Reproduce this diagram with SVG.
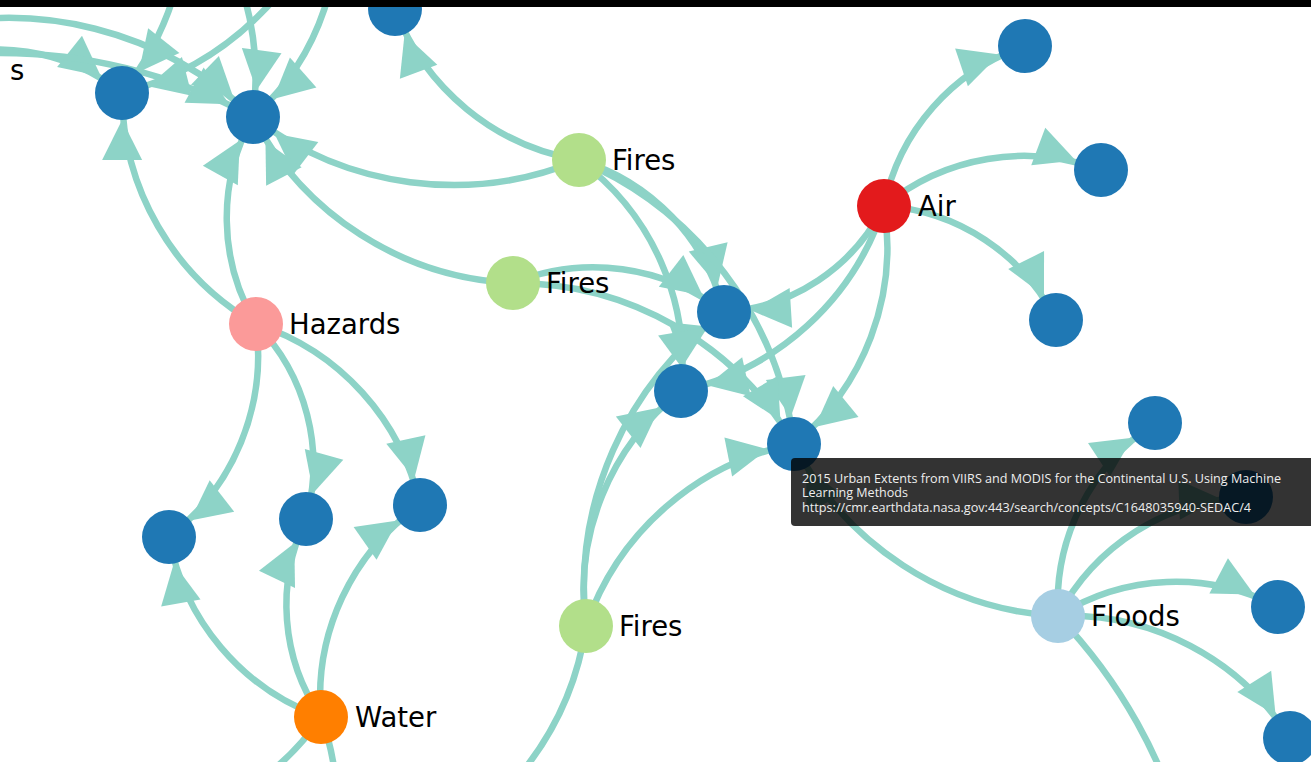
<svg xmlns="http://www.w3.org/2000/svg" width="1311" height="762" viewBox="0 0 1311 762">
<defs>
<marker id="arrow" markerUnits="userSpaceOnUse" markerWidth="40" markerHeight="40" refX="67" refY="20" orient="auto" overflow="visible">
<path d="M0,0 L40,20 L0,40 Z" fill="#8dd3c7"/>
</marker>
<style>
.link{fill:none;stroke:#8dd3c7;stroke-width:6.5}
.arr{marker-end:url(#arrow)}
.ds{fill:#1f78b4}
.label{font-family:"DejaVu Sans",Verdana,sans-serif;font-size:27.5px;fill:#000}
.tip text{font-family:"Open Sans","Noto Sans","DejaVu Sans",sans-serif;font-size:13px;fill:#eeeeee}
</style>
</defs>
<rect width="1311" height="762" fill="#fff"/>
<g id="links">
<path class="link arr" d="M-75.6,63.4 A200,200 0 0,1 122,93"/>
<path class="link arr" d="M-86,31.2 A350,350 0 0,1 253,117"/>
<path class="link arr" d="M-276.5,131 A530,530 0 0,1 253,117"/>
<path class="link arr" d="M167,-203 A300,300 0 0,1 122,93"/>
<path class="link arr" d="M336.5,-116.4 A300,300 0 0,1 122,93"/>
<path class="link arr" d="M137.9,-160.1 A300,300 0 0,1 253,117"/>
<path class="link arr" d="M332.2,-120 A250,250 0 0,1 253,117"/>
<path class="link arr" d="M256,324 A267.1,267.1 0 0,1 122,93"/>
<path class="link arr" d="M256,324 A207,207 0 0,1 253,117"/>
<path class="link arr" d="M256,324 A230.1,230.1 0 0,1 169,537"/>
<path class="link arr" d="M256,324 A201.3,201.3 0 0,1 306,519"/>
<path class="link arr" d="M256,324 A244.2,244.2 0 0,1 420,505"/>
<path class="link arr" d="M321,717 A235.6,235.6 0 0,1 169,537"/>
<path class="link arr" d="M321,717 A198.6,198.6 0 0,1 306,519"/>
<path class="link arr" d="M321,717 A234,234 0 0,1 420,505"/>
<path class="link" d="M321,717 A250,250 0 0,1 96,826"/>
<path class="link" d="M321,717 A250,250 0 0,1 278.9,963.3"/>
<path class="link arr" d="M579,160 A238,238 0 0,1 395,9"/>
<path class="link arr" d="M579,160 A328.8,328.8 0 0,1 253,117"/>
<path class="link arr" d="M579,160 A210.1,210.1 0 0,1 724,312"/>
<path class="link arr" d="M579,160 A252.5,252.5 0 0,1 681,391"/>
<path class="link arr" d="M579,160 A356.2,356.2 0 0,1 794,444"/>
<path class="link arr" d="M513,283 A308.5,308.5 0 0,1 253,117"/>
<path class="link arr" d="M513,283 A213,213 0 0,1 724,312"/>
<path class="link arr" d="M513,283 A323.9,323.9 0 0,1 794,444"/>
<path class="link arr" d="M586,626 A253.5,253.5 0 0,1 681,391"/>
<path class="link arr" d="M586,626 A343,343 0 0,1 724,312"/>
<path class="link arr" d="M586,626 A276.4,276.4 0 0,1 794,444"/>
<path class="link" d="M586,626 A300,300 0 0,1 400.4,861.7"/>
<path class="link arr" d="M884,206 A213.3,213.3 0 0,1 1025,46"/>
<path class="link arr" d="M884,206 A220,220 0 0,1 1101,170"/>
<path class="link arr" d="M884,206 A206.3,206.3 0 0,1 1056,320"/>
<path class="link arr" d="M884,206 A191.9,191.9 0 0,1 724,312"/>
<path class="link arr" d="M884,206 A274.7,274.7 0 0,1 681,391"/>
<path class="link arr" d="M884,206 A254.4,254.4 0 0,1 794,444"/>
<path class="link arr" d="M1058,616 A216,216 0 0,1 1155,423"/>
<path class="link arr" d="M1058,616 A222.5,222.5 0 0,1 1246,497"/>
<path class="link arr" d="M1058,616 A220.2,220.2 0 0,1 1278,607"/>
<path class="link arr" d="M1058,616 A262.1,262.1 0 0,1 1290,738"/>
<path class="link arr" d="M1058,616 A315.1,315.1 0 0,1 794,444"/>
<path class="link" d="M1058,616 A520,520 0 0,1 1182.7,1120.7"/>
</g>
<g id="nodes">
<g id="d1"><circle class="ds" cx="122" cy="93" r="27"/></g>
<g id="d2"><circle class="ds" cx="253" cy="117" r="27"/></g>
<g id="d3"><circle class="ds" cx="395" cy="9" r="27"/></g>
<g id="a1"><circle class="ds" cx="1025" cy="46" r="27"/></g>
<g id="a2"><circle class="ds" cx="1101" cy="170" r="27"/></g>
<g id="a3"><circle class="ds" cx="1056" cy="320" r="27"/></g>
<g id="m1"><circle class="ds" cx="724" cy="312" r="27"/></g>
<g id="m2"><circle class="ds" cx="681" cy="391" r="27"/></g>
<g id="m3"><circle class="ds" cx="794" cy="444" r="27"/></g>
<g id="f1"><circle class="ds" cx="1155" cy="423" r="27"/></g>
<g id="f2"><circle class="ds" cx="1246" cy="497" r="27"/></g>
<g id="f3"><circle class="ds" cx="1278" cy="607" r="27"/></g>
<g id="f4"><circle class="ds" cx="1290" cy="738" r="27"/></g>
<g id="h1"><circle class="ds" cx="169" cy="537" r="27"/></g>
<g id="h2"><circle class="ds" cx="306" cy="519" r="27"/></g>
<g id="h3"><circle class="ds" cx="420" cy="505" r="27"/></g>
<g id="fires-a"><circle cx="579" cy="160" r="27" fill="#b2df8a"/><text class="label" x="612" y="169.5">Fires</text></g>
<g id="fires-b"><circle cx="513" cy="283" r="27" fill="#b2df8a"/><text class="label" x="546" y="292.5">Fires</text></g>
<g id="fires-c"><circle cx="586" cy="626" r="27" fill="#b2df8a"/><text class="label" x="619" y="635.5">Fires</text></g>
<g id="hazards"><circle cx="256" cy="324" r="27" fill="#fb9a99"/><text class="label" x="289" y="333.5">Hazards</text></g>
<g id="water"><circle cx="321" cy="717" r="27" fill="#ff7f00"/><text class="label" x="355" y="726.5">Water</text></g>
<g id="air"><circle cx="884" cy="206" r="27" fill="#e31a1c"/><text class="label" x="918" y="215.5">Air</text></g>
<g id="floods"><circle cx="1058" cy="616" r="27" fill="#a6cee3"/><text class="label" x="1091" y="625.5">Floods</text></g>
<g id="offscreen-label"><text class="label" x="10" y="80">s</text></g>
</g>
<g id="tooltip" class="tip">
<rect x="791" y="458" width="530" height="68" rx="4" fill="#000" fill-opacity="0.8"/>
<text x="802" y="482.5" textLength="479" lengthAdjust="spacingAndGlyphs">2015 Urban Extents from VIIRS and MODIS for the Continental U.S. Using Machine</text>
<text x="802" y="497" textLength="106" lengthAdjust="spacingAndGlyphs">Learning Methods</text>
<text x="802" y="511.5" textLength="449" lengthAdjust="spacingAndGlyphs">https://cmr.earthdata.nasa.gov:443/search/concepts/C1648035940-SEDAC/4</text>
</g>
<rect id="topbar" x="0" y="0" width="1311" height="7" fill="#000"/>
</svg>
